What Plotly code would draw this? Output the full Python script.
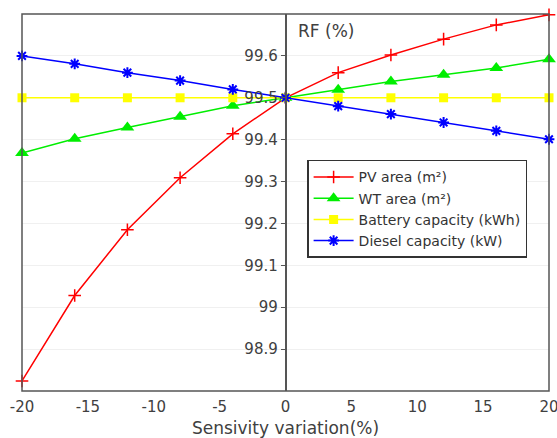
import plotly.graph_objects as go

variation = [-20, -16, -12, -8, -4, 0, 4, 8, 12, 16, 20]
pv_area = [98.824, 99.028, 99.185, 99.309, 99.414, 99.5, 99.560, 99.602, 99.640, 99.674, 99.698]
wt_area = [99.368, 99.402, 99.429, 99.455, 99.481, 99.5, 99.519, 99.539, 99.555, 99.571, 99.592]
battery = [99.5] * 11
diesel = [99.600, 99.581, 99.560, 99.541, 99.520, 99.5, 99.480, 99.461, 99.441, 99.421, 99.401]

x_ticks = [-20, -15, -10, -5, 0, 5, 10, 15, 20]
x_tick_text = ["-20", "-15", "-10", "-5", "0", "5", "10", "15", "20"]
y_ticks = [98.9, 99.0, 99.1, 99.2, 99.3, 99.4, 99.5, 99.6]
y_tick_text = ["98.9", "99", "99.1", "99.2", "99.3", "99.4", "99.5", "99.6"]

FONT = "DejaVu Sans"
TXT = "#404040"

fig = go.Figure()
series = [
    ("PV area (m²)", pv_area, "#ff0000", dict(symbol="cross-thin", size=9, line=dict(color="#ff0000", width=1.5))),
    ("WT area (m²)", wt_area, "#00ee00", dict(symbol="triangle-up", size=12, color="#00ee00")),
    ("Battery capacity (kWh)", battery, "#ffff00", dict(symbol="square", size=9, color="#ffff00")),
    ("Diesel capacity (kW)", diesel, "#0000ff", dict(symbol="asterisk", size=9, line=dict(color="#0000ff", width=2))),
]
for name, ys, col, mk in series:
    fig.add_trace(go.Scatter(x=variation, y=ys, name=name, mode="lines+markers",
                             line=dict(color=col, width=1.5), marker=mk, cliponaxis=False))

fig.update_layout(
    width=557, height=438,
    margin=dict(l=22, r=8, t=14, b=47),
    paper_bgcolor="white", plot_bgcolor="white",
    font=dict(family=FONT, size=15, color=TXT),
    showlegend=True,
    legend=dict(x=0.541, y=0.613, xanchor="left", yanchor="top",
                bgcolor="white", bordercolor="#333333", borderwidth=1.5,
                font=dict(family=FONT, size=14, color="#333333"),
                tracegroupgap=0, itemwidth=40),
    xaxis=dict(range=[-20.0001, 20.0001], tickvals=x_ticks, ticktext=x_tick_text,
               showgrid=False, zeroline=False, ticklabeloverflow="allow", automargin=False,
               showline=False, ticks="", ticklabelstandoff=5, tickfont=dict(size=15, color=TXT),
               title=dict(text="Sensivity variation(%)", font=dict(size=17, color=TXT), standoff=8)),
    yaxis=dict(range=[98.8, 99.7], tickvals=y_ticks, ticktext=y_tick_text, automargin=False,
               anchor="free", position=0.5, showgrid=True, gridcolor="#f0f0f0", gridwidth=1,
               zeroline=False, showline=True, linecolor="#555555", linewidth=1.5,
               ticks="outside", ticklen=4, tickcolor="#555555",
               tickfont=dict(size=15, color=TXT)),
    shapes=[dict(type="rect", xref="paper", yref="paper", x0=0, x1=1, y0=0, y1=1,
                 line=dict(color="#555555", width=1.5), layer="above")],
    annotations=[dict(text="RF (%)", xref="x", yref="paper", x=0.8, y=0.955,
                      xanchor="left", yanchor="middle", showarrow=False,
                      font=dict(family=FONT, size=17, color=TXT))],
)

fig.write_html("out.html")
